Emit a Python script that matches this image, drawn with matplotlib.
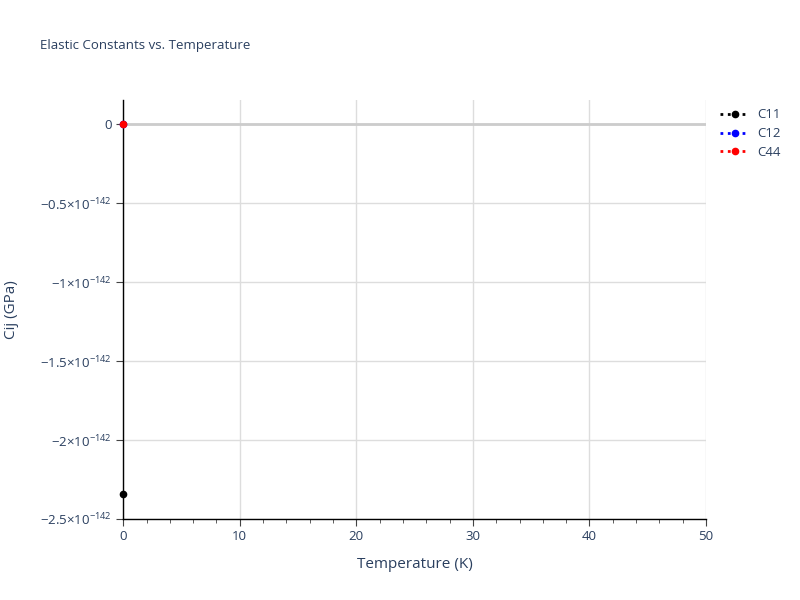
import matplotlib.pyplot as plt
from matplotlib.ticker import FuncFormatter

temperature = [0]
c11 = [-2.34e-142]
c12 = [0.0]
c44 = [0.0]

series = [("C11", c11, "black"), ("C12", c12, "blue"), ("C44", c44, "red")]

x_ticks = [0, 10, 20, 30, 40, 50]
x_minor = [t for t in range(0, 51, 2) if t % 10]
y_ticks = [0.0, -0.5e-142, -1e-142, -1.5e-142, -2e-142, -2.5e-142]

TEXT = "#2a3f5f"
GRID = "#dddddd"


def fmt_y(v, pos):
    if abs(v) < 1e-150:
        return "0"
    m = v / 1e-142
    s = f"{abs(m):g}"
    sign = "\u2212" if m < 0 else ""
    return sign + s + r"$\times$" + r"10$^{\mathregular{-142}}$"


plt.rcParams["font.family"] = ["Open Sans", "DejaVu Sans"]
plt.rcParams["mathtext.fontset"] = "custom"
plt.rcParams["mathtext.rm"] = "Open Sans"

fig = plt.figure(figsize=(8, 6), dpi=100)
ax = fig.add_axes([0.154, 0.135, 0.7285, 0.6983])

for name, vals, color in series:
    ax.plot(temperature, vals, linestyle=":", linewidth=2, marker="o",
            markersize=4.5, color=color, label=name, clip_on=False, zorder=5)

ax.set_xlim(0, 50)
ax.set_ylim(-2.5e-142, 0.152e-142)
ax.set_xticks(x_ticks)
ax.set_xticks(x_minor, minor=True)
ax.set_yticks(y_ticks)
ax.yaxis.set_major_formatter(FuncFormatter(fmt_y))

ax.grid(True, which="major", color=GRID, linewidth=1)
ax.axhline(0, color="#cccccc", linewidth=2, zorder=1)
ax.set_axisbelow(True)

for side in ["top", "right"]:
    ax.spines[side].set_visible(False)
for side in ["left", "bottom"]:
    ax.spines[side].set_color("black")
    ax.spines[side].set_linewidth(1)

ax.tick_params(axis="both", which="major", direction="out", length=5,
               color="#444444", labelcolor=TEXT, labelsize=9.5, pad=3)
ax.tick_params(axis="x", which="minor", direction="out", length=3,
               color="#444444")

ax.set_xlabel("Temperature (K)", color=TEXT, fontsize=11, labelpad=10)
ax.set_ylabel("Cij (GPa)", color=TEXT, fontsize=11, labelpad=15)

fig.text(0.05, 0.925, "Elastic Constants vs. Temperature", color=TEXT,
         fontsize=9.5, va="center", ha="left")

ax.legend(loc="upper left", bbox_to_anchor=(1.015, 0.993), frameon=False,
          labelcolor=TEXT, fontsize=9.5, handlelength=2.2, handletextpad=0.6,
          borderaxespad=0, labelspacing=0.45)

fig.savefig("out.png", dpi=100)
